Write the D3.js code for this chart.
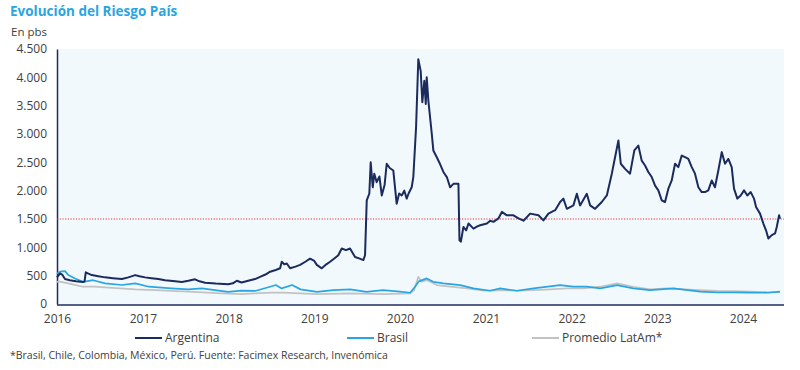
<!DOCTYPE html>
<html><head><meta charset="utf-8">
<script src="https://cdn.jsdelivr.net/npm/d3@7"></script>
<style>
body{margin:0;background:#fff;}
svg text{font-family:"Open Sans",Lato,sans-serif;}
</style></head>
<body>
<svg id="c" width="800" height="370"></svg>
<script>
// ---- data (years since 2016 start, value in pbs) ----
const argT = [0.000,0.035,0.060,0.093,0.15,0.22,0.303,0.32,0.335,0.36,0.405,0.48,0.560,0.65,0.755,0.83,0.910,0.96,1.026,1.10,1.18,1.259,1.35,1.454,1.53,1.609,1.66,1.726,1.85,1.994,2.05,2.096,2.15,2.251,2.309,2.367,2.43,2.484,2.55,2.601,2.620,2.65,2.679,2.717,2.78,2.834,2.90,2.950,3.00,3.029,3.087,3.14,3.184,3.23,3.280,3.320,3.37,3.417,3.475,3.53,3.572,3.592,3.612,3.642,3.658,3.682,3.70,3.728,3.76,3.787,3.82,3.845,3.88,3.922,3.961,3.99,4.020,4.05,4.078,4.10,4.136,4.155,4.187,4.213,4.241,4.260,4.283,4.300,4.311,4.330,4.370,4.388,4.428,4.466,4.505,4.545,4.583,4.622,4.680,4.692,4.708,4.72,4.738,4.77,4.797,4.855,4.90,4.933,5.011,5.050,5.088,5.146,5.186,5.244,5.321,5.380,5.438,5.516,5.613,5.671,5.729,5.808,5.866,5.904,5.944,6.021,6.061,6.099,6.177,6.216,6.274,6.352,6.411,6.469,6.507,6.546,6.574,6.624,6.682,6.732,6.779,6.818,6.857,6.895,6.935,6.974,7.012,7.052,7.090,7.129,7.168,7.207,7.245,7.285,7.324,7.362,7.402,7.440,7.479,7.518,7.557,7.595,7.635,7.673,7.712,7.752,7.790,7.829,7.868,7.895,7.934,7.973,8.012,8.050,8.090,8.128,8.152,8.198,8.237,8.268,8.295,8.335,8.373,8.393,8.420,8.431];
const argV = [470,540,520,440,420,400,390,395,560,540,510,490,470,455,440,470,510,490,470,455,440,420,405,390,410,435,400,375,360,350,365,410,380,420,440,480,520,570,600,630,745,700,715,630,660,690,750,800,760,690,630,700,745,800,860,980,950,980,830,800,775,860,1830,1950,2500,2060,2300,2150,2250,1915,2100,2475,2400,2355,1770,1950,1915,2000,1860,1950,2060,2240,3120,4320,4110,3560,3940,3530,4000,3590,3000,2710,2590,2470,2330,2240,2060,2120,2120,1125,1100,1200,1360,1300,1420,1330,1370,1390,1420,1470,1450,1510,1625,1565,1565,1510,1470,1595,1565,1475,1595,1655,1800,1860,1680,1740,1945,1740,1945,1740,1680,1800,1915,2300,2590,2885,2475,2385,2300,2710,2795,2530,2445,2330,2240,2090,2005,1830,1800,2035,2180,2475,2415,2620,2590,2560,2415,2300,2060,1975,1975,2005,2180,2060,2355,2680,2475,2560,2415,2035,1860,1915,2005,1915,1975,1860,1710,1595,1420,1300,1155,1215,1245,1360,1565,1505];

const braT = [0.000,0.035,0.093,0.132,0.210,0.303,0.42,0.560,0.755,0.910,1.07,1.33,1.53,1.69,1.84,1.994,2.15,2.309,2.484,2.55,2.62,2.74,2.84,3.03,3.22,3.42,3.61,3.80,4.00,4.117,4.175,4.22,4.311,4.388,4.505,4.70,4.855,5.050,5.165,5.36,5.555,5.865,6.02,6.177,6.335,6.53,6.72,6.915,7.19,7.50,7.70,7.89,8.09,8.28,8.431];
const braV = [540,570,580,510,450,390,420,365,335,365,305,275,258,275,245,215,235,230,305,335,275,335,258,215,245,258,215,245,217,199,305,400,452,392,364,334,276,234,276,234,276,334,305,305,276,334,276,246,276,217,205,205,199,199,217];

const latT = [0.000,0.035,0.132,0.30,0.44,0.60,0.91,1.14,1.53,1.92,2.15,2.309,2.50,2.64,3.03,3.42,3.80,4.12,4.165,4.213,4.25,4.311,4.428,4.583,4.78,4.98,5.165,5.36,5.555,5.75,5.944,6.14,6.335,6.53,6.72,6.915,7.11,7.31,7.50,7.70,7.89,8.09,8.28,8.431];
const latV = [390,395,365,305,305,290,258,245,217,188,176,188,199,199,176,188,176,188,246,480,392,422,334,305,276,234,246,234,246,258,276,276,305,364,305,258,276,258,246,234,229,217,205,211];

const yTicks = [0,500,1000,1500,2000,2500,3000,3500,4000,4500];
const xTickYears = [2016,2017,2018,2019,2020,2021,2022,2023,2024];
const refLine = 1500;
const seriesNames = ["Argentina","Brasil","Promedio LatAm*"];
const seriesColors = ["#1c2b5e","#29a6e2","#c2c2c2"];

// ---- helpers ----
function toDate(t){
  const yy = 2016 + Math.floor(t);
  const start = new Date(yy,0,1), end = new Date(yy+1,0,1);
  return new Date(+start + (t - Math.floor(t))*(end - start));
}
const mk = (T,V) => T.map((t,i)=>({d:toDate(t), v:V[i]}));
const series = [mk(argT,argV), mk(braT,braV), mk(latT,latV)];

const svg = d3.select("#c");
const m = {l:57, r:784, t:49, b:304};
const x = d3.scaleTime().domain([new Date(2016,0,1), new Date(2024,0,1)]).range([57, 57+85.75*8]);
const y = d3.scaleLinear().domain([0,4500]).range([m.b, m.t]);
const loc = d3.formatLocale({decimal:",", thousands:".", grouping:[3], currency:["$",""]});
const fmt = loc.format(",d");

// background
svg.append("rect").attr("x",m.l).attr("y",m.t).attr("width",m.r-m.l).attr("height",m.b-m.t).attr("fill","#f2f9fd");

// title
svg.append("text").attr("x",10).attr("y",16).attr("font-size",13.5).attr("font-weight",700).attr("fill","#2aa5df").text("Evolución del Riesgo País");
svg.append("text").attr("x",11).attr("y",36).attr("font-size",11.5).attr("fill","#404040").text("En pbs");

// y axis
const ya = svg.append("g").attr("transform",`translate(${m.l},0)`)
  .call(d3.axisLeft(y).tickValues(yTicks).tickFormat(fmt).tickSize(0).tickPadding(10));
ya.select(".domain").attr("stroke","#1c2b5e").attr("stroke-width",1.5);
ya.selectAll("text").attr("font-size",12).attr("fill","#404040").attr("font-family","Open Sans, sans-serif");

// x axis
const xa = svg.append("g").attr("transform",`translate(0,${m.b+1})`)
  .call(d3.axisBottom(x).tickValues(xTickYears.map(yy=>new Date(yy,0,1))).tickFormat(d3.timeFormat("%Y")).tickSize(0).tickPadding(9));
xa.select(".domain").remove();
svg.append("line").attr("x1",m.l).attr("x2",m.r).attr("y1",m.b+1).attr("y2",m.b+1).attr("stroke","#1c2b5e").attr("stroke-width",1.5);
xa.selectAll("text").attr("font-size",12).attr("fill","#404040").attr("font-family","Open Sans, sans-serif");

// reference line
svg.append("line").attr("x1",m.l).attr("x2",m.r).attr("y1",y(refLine)).attr("y2",y(refLine))
  .attr("stroke","#e0303a").attr("stroke-width",1.2).attr("stroke-dasharray","1.2,1.5");

// lines (draw gray, blue, then navy)
const line = d3.line().x(d=>x(d.d)).y(d=>y(d.v));
[2,1,0].forEach(i=>{
  svg.append("path").datum(series[i]).attr("d",line).attr("fill","none")
    .attr("stroke",seriesColors[i]).attr("stroke-width",i===0?2:1.7).attr("stroke-linejoin","round");
});

// legend
const legX = [135,347,532];
seriesNames.forEach((n,i)=>{
  const g = svg.append("g").attr("transform",`translate(${legX[i]},338)`);
  g.append("line").attr("x1",0).attr("x2",27).attr("y1",0).attr("y2",0).attr("stroke",seriesColors[i]).attr("stroke-width",2);
  g.append("text").attr("x",30).attr("y",4).attr("font-size",12).attr("fill","#404040").text(n);
});

// footnote
svg.append("text").attr("x",10).attr("y",358.5).attr("font-size",10.5).attr("fill","#404040")
  .text("*Brasil, Chile, Colombia, México, Perú. Fuente: Facimex Research, Invenómica");
</script>
</body></html>
